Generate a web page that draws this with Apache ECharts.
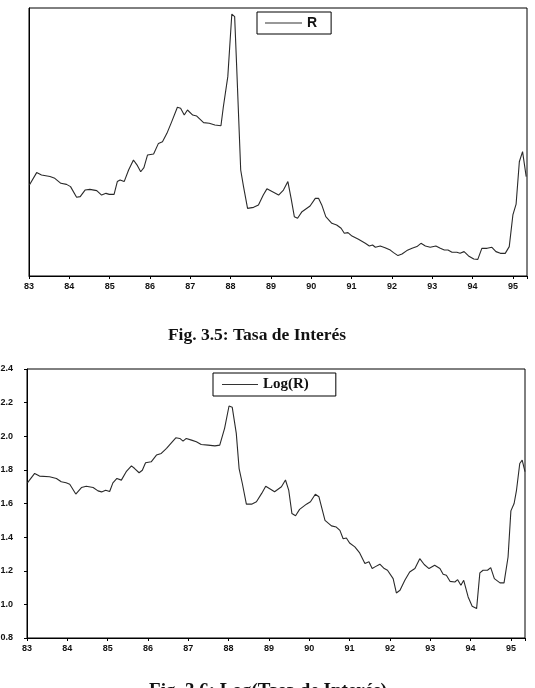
<!DOCTYPE html>
<html>
<head>
<meta charset="utf-8">
<script src="https://cdn.jsdelivr.net/npm/echarts@6/dist/echarts.min.js"></script>
<style>
  html, body { margin: 0; padding: 0; background: #fff; }
  #chart { width: 535px; height: 688px; }
</style>
</head>
<body>
<div id="chart"></div>
<script>
// Tasa de interes (R) y su logaritmo, 1983-1995
var yearsR = [83.01, 83.19, 83.31, 83.52, 83.64, 83.79, 83.93, 84.03, 84.18, 84.27, 84.39, 84.51, 84.68, 84.80, 84.91, 84.99,
  85.11, 85.19, 85.26, 85.36, 85.47, 85.59, 85.69, 85.77, 85.85, 85.94, 86.09, 86.21, 86.31, 86.42, 86.54, 86.68, 86.76,
  86.85, 86.93, 87.06, 87.16, 87.33, 87.47, 87.61, 87.76, 87.82, 87.93, 88.03, 88.10, 88.15, 88.25, 88.32, 88.42, 88.57,
  88.69, 88.81, 88.90, 89.19, 89.31, 89.42, 89.50, 89.58, 89.66, 89.77, 89.97, 90.10, 90.18, 90.26, 90.36, 90.51, 90.63,
  90.74, 90.82, 90.91, 91.01, 91.17, 91.34, 91.44, 91.52, 91.59, 91.71, 91.83, 91.96, 92.04, 92.15, 92.25, 92.37, 92.50,
  92.62, 92.72, 92.83, 92.95, 93.09, 93.20, 93.30, 93.39, 93.49, 93.61, 93.69, 93.79, 93.90, 94.03, 94.13, 94.23, 94.36,
  94.48, 94.58, 94.69, 94.81, 94.91, 95.00, 95.08, 95.16, 95.24, 95.33];
var rateR = [52.6, 59.8, 58.4, 57.5, 56.5, 53.6, 53.0, 51.7, 45.5, 45.9, 49.7, 50.1, 49.4, 46.8, 47.8, 47.2,
  47.2, 54.6, 55.5, 54.6, 61.3, 67.1, 63.8, 60.3, 62.7, 70.0, 70.6, 76.7, 77.7, 82.5, 89.3, 97.6, 97.0,
  93.1, 96.0, 93.1, 92.5, 88.7, 88.3, 87.3, 86.9, 97.9, 115.3, 151.5, 150.0, 121.1, 61.3, 51.7, 39.1, 39.7,
  41.1, 46.8, 50.4, 46.8, 49.7, 54.6, 44.9, 34.3, 33.4, 37.2, 40.5, 44.9, 44.9, 41.1, 34.3, 30.5, 29.5,
  27.6, 24.7, 25.1, 23.1, 21.2, 18.9, 17.4, 17.9, 16.6, 17.4, 16.4, 15.0, 13.5, 11.8, 12.7, 14.7, 16.0,
  17.0, 18.9, 17.4, 16.6, 17.4, 16.0, 15.0, 15.0, 13.7, 13.7, 13.1, 14.1, 11.6, 9.8, 9.6, 16.0, 16.0,
  16.6, 14.1, 13.1, 13.1, 17.0, 35.3, 41.6, 66.1, 71.9, 57.5];

var yearsLog = [83.01, 83.19, 83.31, 83.56, 83.73, 83.85, 83.97, 84.06, 84.21, 84.35, 84.47, 84.64, 84.76, 84.85, 84.95, 85.05,
  85.13, 85.23, 85.34, 85.46, 85.59, 85.67, 85.78, 85.86, 85.94, 86.08, 86.21, 86.33, 86.46, 86.58, 86.69, 86.79, 86.87,
  86.95, 87.08, 87.20, 87.32, 87.49, 87.66, 87.78, 87.90, 88.01, 88.09, 88.19, 88.26, 88.34, 88.44, 88.57, 88.69, 88.82,
  88.92, 89.14, 89.31, 89.41, 89.49, 89.57, 89.66, 89.76, 89.93, 90.03, 90.15, 90.24, 90.39, 90.55, 90.67, 90.76, 90.84,
  90.92, 91.00, 91.13, 91.25, 91.38, 91.48, 91.56, 91.63, 91.75, 91.86, 91.94, 92.08, 92.16, 92.25, 92.37, 92.49, 92.62,
  92.74, 92.85, 92.97, 93.11, 93.24, 93.32, 93.40, 93.49, 93.61, 93.68, 93.76, 93.83, 93.94, 94.04, 94.15, 94.23, 94.31,
  94.42, 94.50, 94.59, 94.73, 94.83, 94.93, 95.00, 95.08, 95.14, 95.22, 95.28, 95.35];
var logR = [1.723, 1.779, 1.763, 1.759, 1.749, 1.729, 1.723, 1.715, 1.656, 1.695, 1.703, 1.695, 1.675, 1.669, 1.679, 1.671,
  1.723, 1.749, 1.739, 1.789, 1.824, 1.808, 1.783, 1.798, 1.842, 1.848, 1.888, 1.898, 1.928, 1.961, 1.991, 1.987, 1.971,
  1.987, 1.977, 1.967, 1.951, 1.947, 1.943, 1.947, 2.047, 2.180, 2.172, 2.017, 1.808, 1.719, 1.596, 1.596, 1.610, 1.660,
  1.703, 1.670, 1.700, 1.740, 1.680, 1.540, 1.527, 1.565, 1.596, 1.610, 1.655, 1.640, 1.500, 1.467, 1.460, 1.440, 1.390,
  1.395, 1.365, 1.342, 1.306, 1.243, 1.253, 1.213, 1.223, 1.239, 1.213, 1.203, 1.153, 1.068, 1.084, 1.143, 1.193, 1.213,
  1.272, 1.237, 1.213, 1.233, 1.213, 1.179, 1.173, 1.137, 1.133, 1.147, 1.114, 1.143, 1.044, 0.989, 0.975, 1.187, 1.203,
  1.203, 1.219, 1.153, 1.128, 1.128, 1.282, 1.556, 1.600, 1.680, 1.838, 1.858, 1.790];

function pairs(xs, ys) {
  return xs.map(function (x, i) { return [x, ys[i]]; });
}

var sansBold = { fontFamily: 'Liberation Sans', fontWeight: 'bold', fontSize: 9, color: '#111' };
var lineIcon = 'path://M0,0L40,0L40,1L0,1Z';

function xAxisFor(gridIndex) {
  return {
    type: 'value', gridIndex: gridIndex, min: 83, max: 95.35, interval: 1,
    axisLine: { lineStyle: { color: '#000', width: 1 } },
    axisTick: { show: true, length: 3, lineStyle: { color: '#000' } },
    axisLabel: Object.assign({ margin: 6, formatter: function (v) { return Number.isInteger(v) ? String(v) : ''; } }, sansBold),
    splitLine: { show: false }
  };
}

var chart = echarts.init(document.getElementById('chart'), null, { renderer: 'canvas' });
chart.setOption({
  backgroundColor: '#fff',
  animation: false,
  title: [
    { text: 'Fig. 3.5: Tasa de Interés', left: 257, top: 326, textAlign: 'center', padding: 0,
      textStyle: { fontFamily: 'Liberation Serif', fontWeight: 'bold', fontSize: 17.5, color: '#111' } },
    { text: 'Fig. 3.6: Log(Tasa de Interés)', left: 268, top: 682, textAlign: 'center', padding: 0,
      textStyle: { fontFamily: 'Liberation Serif', fontWeight: 'bold', fontSize: 19, color: '#111' } }
  ],
  legend: [
    { data: ['R'], left: 257, top: 12, orient: 'horizontal', icon: lineIcon, itemWidth: 37, itemHeight: 1,
      padding: [4, 14, 4, 8], borderColor: '#000', borderWidth: 1, borderRadius: 0,
      itemStyle: { color: '#333' },
      textStyle: { fontFamily: 'Liberation Sans', fontWeight: 'bold', fontSize: 14, lineHeight: 14, color: '#111' } },
    { data: ['Log(R)'], left: 213, top: 373, orient: 'horizontal', icon: lineIcon, itemWidth: 36, itemHeight: 1,
      padding: [4, 27, 4, 9], borderColor: '#000', borderWidth: 1, borderRadius: 0,
      itemStyle: { color: '#333' },
      textStyle: { fontFamily: 'Liberation Serif', fontWeight: 'bold', fontSize: 15, lineHeight: 15, color: '#111' } }
  ],
  grid: [
    { left: 29, top: 8, width: 498, height: 268, show: true, borderColor: '#000', borderWidth: 1,
      containLabel: false, outerBoundsMode: 'none' },
    { left: 27, top: 369, width: 498, height: 269, show: true, borderColor: '#000', borderWidth: 1,
      containLabel: false, outerBoundsMode: 'none' }
  ],
  xAxis: [xAxisFor(0), xAxisFor(1)],
  yAxis: [
    { type: 'value', gridIndex: 0, min: 0, max: 155,
      axisLine: { show: true, lineStyle: { color: '#000' } },
      axisTick: { show: false }, axisLabel: { show: false }, splitLine: { show: false } },
    { type: 'value', gridIndex: 1, min: 0.8, max: 2.4, interval: 0.2,
      axisLine: { show: true, lineStyle: { color: '#000' } },
      axisTick: { show: true, length: 3, lineStyle: { color: '#000' } },
      axisLabel: Object.assign({ margin: 14, formatter: function (v) { return v.toFixed(1); } }, sansBold),
      splitLine: { show: false } }
  ],
  series: [
    { name: 'R', type: 'line', xAxisIndex: 0, yAxisIndex: 0, data: pairs(yearsR, rateR),
      symbol: 'none', lineStyle: { color: '#2a2a2a', width: 1.1 }, itemStyle: { color: '#2a2a2a' } },
    { name: 'Log(R)', type: 'line', xAxisIndex: 1, yAxisIndex: 1, data: pairs(yearsLog, logR),
      symbol: 'none', lineStyle: { color: '#2a2a2a', width: 1.1 }, itemStyle: { color: '#2a2a2a' } }
  ]
});
</script>
</body>
</html>
